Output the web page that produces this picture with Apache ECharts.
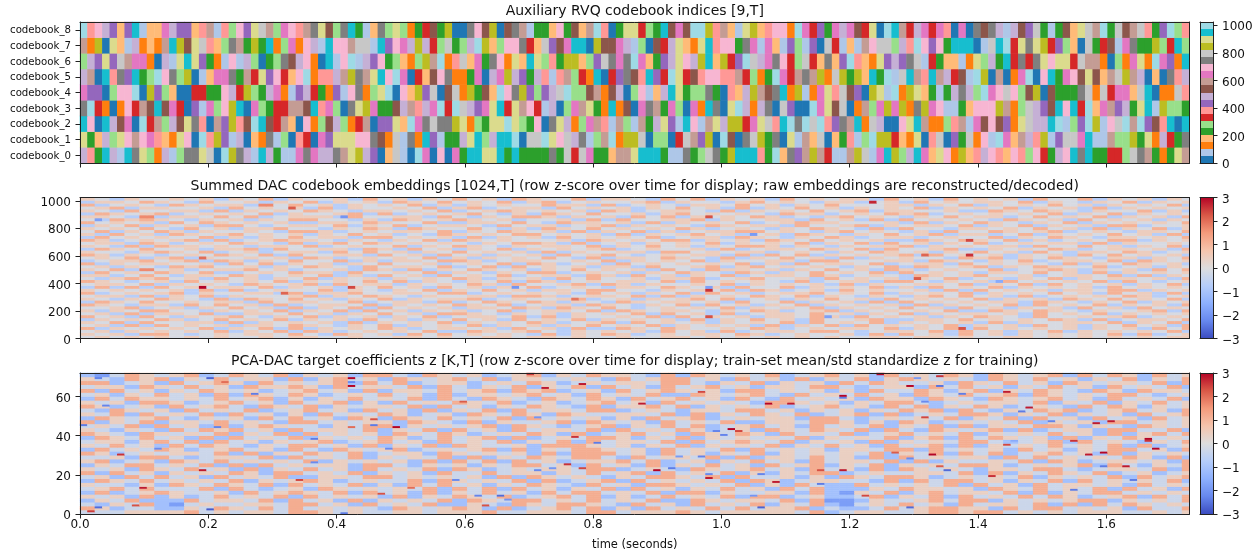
<!DOCTYPE html>
<html><head><meta charset="utf-8">
<script src="https://cdn.jsdelivr.net/npm/echarts@6/dist/echarts.min.js"></script>
<style>html,body{margin:0;background:#fff}#c{width:1260px;height:550px}</style></head>
<body><div id="c"></div>
<script>
// Top panel: transcribed per cell as tab20 colour bins (one letter per frame).
const binKey = "BbOoGgRrPpNnMmKkYyCc";
const codebook_0 = "prGCpbCKygOpbgKKykBcYKpbCpGbbMKMppKnyYpPBokbBcMBmB"+"MGCCyyCGCGGGGKGkRkMGGonnyCCCGbbKGgkKGYCCCrGcoKPnYn"+"RbbnYkbMCYgpCMoymOYorpmromrgmRGpmCKCGGRRgkKnGOGyn";
const codebook_1 = "yGopgymnmMroOymBcrYPbpBoOKbgBrRBMPyyymmKNOkbKOCPbG"+"GpyCgpCCcBkkcymkpKbgncOYYkBggBRknPYBcNBKkYGKBybnok"+"BoGrbgcYYRoOyBrkBPGkOmbcMonprYbPkkMCbbnggYGyOpRGK";
const codebook_2 = "CmBCpNMBcRngpNyKrBnPYrNcCNRnoBmOgNpgORnBPPyocMKkKK"+"YyOgGyycygGmBKypOgMnrbngbnGpyPbCmbnypYYRMykrCcKckc"+"rPKnCOkpBBmyCnOOgrnbMNmNPOykppCcbgPcYbmkcncPNrCBC";
const codebook_3 = "KcROBOmRnNCNMRBPbMgmYCBMgGRRnnNCrMgBKyYMGGNpnrpMcR"+"ckpPMyCRynmRbpBgMnyGOCONBMKnGMgBMOCKBycpOpKBkPBBcM"+"yNkBOngMYMYOKYMmbbGommmYnOgkpPNCmCRcoMnPpGyCbYggG";
const codebook_4 = "MPPBgmmcBYPgoBBRRGGmpRYgGpMObPpRGOPbmKOgycBmoYPkBN"+"kOYGNocmKYPgPpkcggNnONpBgmbopCyGggKGBropYnNKCOYbOM"+"yrkNPBYybcOYyoGbGpKpgcMmkmgNYBNGGGKkOkRMMokCBOOkr";
const codebook_5 = "pnBCrKPCGgcmKgYBboMMKGnRyPmRomcOrrpnYKnyCmcMBRoNmK"+"OOGMBpMYpPGprbrngROCBRPKNrCPRcyRNrmmrrnRgOGcMRnKnY"+"OkYGYoCGcbkCnrCnpRNbcYBnBOMcBmCGMmNyNonkYnpBoBKrp";
const codebook_6 = "gpPyPknMMOBpbyCyPGObmbpgBGgKNpmOBCbmcbpPmGgoOgYncO"+"rkoMGKmOyoCygrGYYogPkKMKcMoGPpympYCoYRPckpMKmRgkRo"+"KoPcroOyPpPKkbRGoobOygpGCRKRKymyyRknnOBgOMyOcMPOC";
const codebook_7 = "nOYByobpOoOnCYNykrogKnGYGCOgMOmpbCmmnkkbCPmMpYpRgk"+"GgpcYogmmKRokPNMCCBYNNMpbgBNRpyoOyCrmmGKMbMobPgbPB"+"kRbobnmkkgprcmPmGCCCBbkCcRyKyYRPgoBkGRNbMKGGYgRCg";
const codebook_8 = "crmpPoPCbooMpPPornbrgmPykngMmrnKyNgKCGboKgygOGRNGY"+"BBKmNYBNKnbGGomGNoncrBGyyRgGCNMNccYrnobyYormmOcMRP"+"GMpMNRyBcCnRpMRMrBMBKNKpbpNPkGbGNoykncGkNnkrGPcgr";
const codebookRows = [codebook_0,codebook_1,codebook_2,codebook_3,codebook_4,codebook_5,codebook_6,codebook_7,codebook_8];
const codebookLabels = ["codebook_0","codebook_1","codebook_2","codebook_3","codebook_4","codebook_5","codebook_6","codebook_7","codebook_8"];

// Middle panel: coarse hand-estimated tones, top row first. Cell = 2 frames.
const embeddingTones = [
"54354 45453 54635 44536 45354 64536 54463 55436 46354 53645 45536 45364 54536 44635 45354",
"35546 54364 45354 63545 36546 45463 56345 44563 54435 64543 55345 36454 55463 54354 63545",
"63454 36545 53746 45354 54635 35454 46553 63454 35546 45354 64445 53546 35454 64535 45463",
"45635 54453 64545 36354 45463 56345 53645 45354 64536 35464 53545 46354 54635 45363 54545",
"54364 45536 35454 65435 54546 34565 45453 65345 54363 54546 45635 54453 36546 54354 46353",
"36545 63454 54635 44563 63454 56435 36546 44535 64545 43655 34546 56345 45454 63546 35454",
"55437 35546 46345 55364 45536 43546 65354 53646 35454 65343 56454 35464 55346 45463 54536",
"43656 54354 53546 64435 36545 65453 44536 36445 56354 45536 45363 64545 43654 53645 45354",
"64545 36465 45453 35546 54463 35546 43655 45363 54546 34565 54445 36354 65435 46354 54546",
"35463 54536 64345 54635 46345 54364 55345 63545 43654 55364 45635 45546 35463 54536 63445",
"54546 43645 35564 43546 53654 46435 36546 45454 65345 43546 54363 64435 54546 45363 54635",
"46354 65354 45436 65345 45546 35465 45363 54635 34556 64543 56454 35364 46545 63454 35546",
"53645 36545 64545 35464 53436 54546 64545 36354 56453 45365 43546 45635 53463 54546 45363",
"36454 54463 53546 45536 64545 36354 53645 45463 45536 54354 65345 53454 46354 65435 54546",
"65345 45636 34565 54354 35463 65454 44536 54546 63545 36546 45453 36546 54635 34546 63545",
"45536 53454 65436 35646 54545 43546 65363 45354 54635 45463 54636 45354 63454 55363 54454",
"54363 65545 43554 63454 46354 65435 45546 35464 53546 65354 35455 63545 45536 44645 35463",
"36546 44535 56364 45536 53645 35463 54545 63454 45363 45546 54636 44563 35454 65345 54536",
"54435 65463 45345 53646 45354 64545 36354 45536 64545 53454 35465 45354 64536 43554 65345",
"65354 34546 54636 44553 64536 45354 53645 64345 45536 36463 54545 63645 45354 53646 45453",
"45463 56354 45453 65345 45463 53545 46436 35546 54363 54645 36354 54436 56354 65435 53546",
"34556 45636 53546 44635 35546 65345 54454 63545 46354 45536 64445 53654 35463 45546 36545",
"63545 54453 64635 45354 64453 45463 65345 36454 54546 35364 55463 45536 45454 36354 65453",
"45354 36564 45354 65436 45546 34636 45453 55364 45635 64545 43546 36545 63546 54463 45354",
"54637 45345 56453 44536 53635 46545 35464 54536 43655 45354 64536 53454 46345 65354 53646",
"36454 65463 34546 55364 45463 54354 66345 45354 65436 53546 45463 64545 35546 45363 54545",
"55346 43554 65345 46353 64536 45463 45536 53645 35463 45546 53454 36545 64453 45546 36354",
"43565 64536 45354 63545 35454 65354 53646 44535 56345 64453 64545 35463 45354 63545 54536",
"65434 53645 45463 54546 46354 35463 65345 45546 36454 54363 45536 64354 53645 45463 64345",
"45546 35454 36545 63645 53545 46536 44563 65354 45463 54545 36354 45546 35463 64545 35463",
"36363 64545 54635 45354 64536 45354 63454 35546 54536 44635 45463 53645 46354 54536 45454",
"54545 45363 63454 46354 35463 54645 35546 64435 45463 65345 36454 45363 64545 35546 63545",
"63454 56354 45536 35564 45546 63454 54536 45354 63645 34556 45463 54546 35454 64536 45363",
"45536 35463 54445 63546 54354 45536 65345 54636 35454 65463 54354 35646 45363 45454 65345",
"54354 65436 36546 45354 63545 56345 44563 45354 56463 45354 64536 45454 63545 36546 45463",
"36546 44545 53645 54463 45536 34654 65354 36545 54536 44635 45363 64545 45536 54354 63545",
"65435 53646 45363 45546 35454 65463 45536 54354 63645 35463 54545 36354 54636 45463 54536",
"44563 45354 64536 35463 64545 35546 53654 64345 45463 54546 35454 64536 45354 53645 36454",
"53546 64435 45463 54636 45354 53463 45546 36545 54354 65345 63545 45463 36546 54354 45636",
"45363 55463 35546 45354 64536 65435 45354 54636 45363 45546 45354 63545 54536 45463 54545",
"64536 43545 64354 63545 35463 45546 36354 45463 64545 35546 53645 45354 65436 44545 63454",
"35454 65346 45463 54536 45354 64536 45463 54545 36354 64536 44563 35546 45454 65363 45546",
"54636 44553 63545 45363 54546 35454 65345 63645 45354 54636 45463 54545 36354 45546 35463",
"45363 64545 35546 54354 63545 46354 53546 45463 54545 36354 63645 45463 54536 45354 64536",
"63545 45463 54636 35454 65345 54536 45363 36546 54454 65345 45546 35463 64545 45354 53646",
"45354 54546 35463 65345 45463 36545 64354 54536 45363 45546 64345 54636 45354 63545 45463",
"54536 64345 45546 43654 53646 45454 36354 65345 45546 53454 45363 64536 45354 54546 36345",
"45454 54545 44545 54454 45545 44554 55454 45445 54545 45454 54455 45545 44554 54545 45455"
];
const embeddingSpots = [[16,25,3],[36,25,2.4],[16,41,2],[28,66,2.2],[27,22,2.1],[66,19,1.9],[106,69,2.7],[119,49,2.4],[119,42,2.6],[118,4,2.3],[84,62,2.3],[84,24,2.6],[84,11,2.3],[112,30,2.2],[113,42,2.1],[35,62,-2],[58,25,-2],[123,29,-1.6],[84,25,-1.8],[2,60,-1.8],[90,53,-1.9],[100,11,-1.8]];

// Bottom panel: coarse hand-estimated tones, top row first. Cell = 2 frames x 2 coefficients.
const pcaTones = [
"32465 45634 65463 54536 64365 45345 63546 55436 36545 46345 64536 45465 36545 63646 53645",
"54365 63546 45536 35645 36545 64635 54454 36456 64536 45363 54635 65454 36546 45354 63546",
"66345 36456 53645 45636 46345 53454 65345 45546 64354 63545 36465 44536 54645 36545 54636",
"45536 54645 36556 53645 54636 43546 35463 64536 45645 35546 64345 53646 45354 64536 45463",
"63645 35465 45345 64536 35546 45636 56345 36456 54536 64545 35364 46535 63546 54365 36554",
"45354 64536 36546 53454 64536 35545 64536 45463 36545 64364 54645 36546 45636 54546 64345",
"36465 54546 45635 35464 54636 43654 36546 53645 64536 43645 45365 53654 36545 64536 45463",
"54536 65345 64536 45635 36454 65463 45345 64536 45454 36654 53546 64345 45546 35463 54645",
"65345 36456 43654 63545 54636 45354 65436 35564 63545 46345 64536 46354 65345 43646 53545",
"43654 53645 46345 64536 45363 54636 45546 63454 35546 64535 45354 65636 43546 56345 64536",
"54636 45463 64535 36454 65345 36546 53654 45546 36354 65463 45636 34546 65354 63545 36456",
"36545 64354 53646 45365 36546 45463 64545 35364 56345 45536 64345 45463 54636 45364 53645",
"63546 35546 45436 64545 53654 36354 45636 54536 45463 35546 65353 65345 45463 54536 64545",
"45463 64536 35654 43546 63545 45636 54345 63546 46345 64536 45463 54636 35546 65354 36545",
"54354 36465 64536 45546 35463 64536 45546 36454 65345 36546 54636 43654 56363 45536 64463",
"65436 54546 35463 64545 36546 53454 65363 45645 36546 53645 46345 64546 35454 64536 35646",
"36546 45363 64546 35454 65346 45636 34546 65354 63545 45463 54546 35636 46545 36354 65454",
"45535 64636 45354 56345 64536 45463 54636 45546 36456 54635 45363 54546 64345 63645 43546",
"54645 36465 43546 64536 35463 65445 36665 45354 63545 46354 64536 45636 35454 64546 36345",
"36454 65345 64536 43654 56345 45636 35466 54536 45463 64545 35546 63645 45364 53546 64536",
"65345 45546 36354 65463 45536 54545 36366 64536 45354 63545 45463 54636 46345 64536 35454",
"44536 64345 54636 45463 54546 36354 65466 43645 54636 35546 45363 64545 53646 45454 65363",
"56345 36546 45454 63545 45363 64636 45345 56463 45354 64536 45546 36354 45463 65345 54536",
"35466 45463 63645 45536 64354 53546 64536 45363 54645 36456 35463 54546 65345 45636 43546",
"54536 54645 36354 64536 45463 65345 45546 63454 36545 64536 45363 65454 35546 64345 54636",
"63645 35454 65366 45463 54536 44645 53546 45636 45463 53546 63454 45546 36354 65463 45345",
"45364 64536 45463 35546 64545 45363 65454 35466 54636 44535 36546 65345 45463 54546 36456",
"36546 45454 63545 65345 44636 54546 36345 63645 45463 65345 54436 36466 45354 63645 45463",
"54435 36546 54636 45463 53646 45354 65436 45366 54546 35364 33645 45463 64536 45545 36454",
"45646 44463 64345 36545 45463 64636 45354 63645 35464 53646 33354 65545 36546 45463 64536",
"36345 65445 36456 54636 45363 54645 36466 45463 66354 45536 32546 35645 54636 35466 45454",
"54536 35346 45463 64545 36354 65463 45646 35346 45463 66345 33463 54636 45464 65345 63646",
"35463 33645 54636 45363 54546 36546 64546 45463 36545 54636 22354 45646 63545 45663 54546",
"43546 32454 45546 64536 45463 35436 54665 43645 36454 63546 32454 64536 45546 36364 65454",
"65344 33546 54646 45454 36545 65363 45646 35364 54646 45563 43346 45665 53646 64545 36446",
"44455 55645 45546 65454 45545 55644 55546 64555 65455 55546 34554 45665 66454 54555 44545"
];
const pcaSpots = [[36,69,3],[36,65,3],[60,71,2.5],[67,66,2.8],[62,64,2.8],[51,57,2.2],[42,44,3],[36,44,2],[39,48,2.3],[66,39,2.6],[5,30,2.6],[16,22,2.8],[29,17,2.4],[8,13,2.8],[65,25,2.6],[67,23,2.4],[40,10,2.3],[7,4,2.3],[1,1,2.5],[54,4,2.3],[44,13,2],[19,67,2],
[17,69,-2.7],[2,69,-2.3],[2,3,-2.6],[17,2,-2.8],[36,67,-2.2],[0,45,-2.4],[3,55,-2.3],[23,61,-2.4],[18,44,-2.3],[39,45,-2.4],[31,38,-2.4],[31,26,-2.2],[10,33,-2.2],[69,36,-2.4],[61,49,-2],[56,9,-2.6],[53,9,-2.3],[61,22,-2.2],[50,17,-2.2],[41,33,-2.2],[57,7,-2],[35,0,-2.4],[63,23,-2],
[77,22,3],[75,56,2.8],[83,62,2.4],[92,56,3],[95,56,2.8],[102,60,3],[87,43,3],[88,42,2.4],[99,22,2.3],[102,22,2.8],[93,16,2.8],[84,18,2.8],[111,65,3],[124,62,2.8],[127,54,2.8],[114,30,3],[136,46,2.8],[138,47,2.8],[143,38,3],[143,37,2.6],[144,33,3],[137,31,3],[135,30,2.8],[140,24,2.8],[133,37,2.6],[122,19,2.6],[113,49,2.4],[115,24,2.2],[107,71,3],[115,70,2.6],[105,9,2.4],[109,31,2.2],[124,35,2.4],
[102,59,-2.4],[113,57,-2.2],[115,65,-2.5],[118,61,-2.4],[126,52,-2.4],[130,47,-2.3],[86,40,-2.3],[80,29,-1.9],[83,29,-2.3],[85,42,-2.3],[79,23,-2.4],[84,20,-2.2],[91,20,-2.3],[99,15,-2.4],[116,22,-2.6],[137,24,-2.4],[141,17,-2.4],[133,12,-2.4],[91,3,-2.7],[111,3,-2.6],[111,28,-2.2],[90,9,-2],[100,6,-1.9],[125,37,-1.6],[112,69,-1.9]];

const timeTicks = [0,0.2,0.4,0.6,0.8,1.0,1.2,1.4,1.6];
const embeddingTicks = [0,200,400,600,800,1000];
const pcaTicks = [0,20,40,60];
const codeTicks = [0,200,400,600,800,1000];
const zTicks = [-3,-2,-1,0,1,2,3];
const duration = 1.7297, FRAMES = 149;
const titles = ["Auxiliary RVQ codebook indices [9,T]",
 "Summed DAC codebook embeddings [1024,T] (row z-score over time for display; raw embeddings are reconstructed/decoded)",
 "PCA-DAC target coefficients z [K,T] (row z-score over time for display; train-set mean/std standardize z for training)"];

const tab20=["#1f77b4","#aec7e8","#ff7f0e","#ffbb78","#2ca02c","#98df8a","#d62728","#ff9896","#9467bd","#c5b0d5","#8c564b","#c49c94","#e377c2","#f7b6d2","#7f7f7f","#c7c7c7","#bcbd22","#dbdb8d","#17becf","#9edae5"];
const coolwarm=["#3b4cc0","#6788ee","#8db0fe","#b5cdfa","#dddddd","#f5c4ac","#f49a7b","#d95847","#b40426"];
const binW=1024/20;

const frames=Array.from({length:FRAMES},(_,i)=>i);
const codeData=[];
codebookRows.forEach((s,r)=>{for(let t=0;t<FRAMES;t++){codeData.push([t,r,(binKey.indexOf(s[t])+0.5)*binW]);}});

function tones(rows,nRows,factor,spots,spotScale,centre,gain){
  const clean=rows.map(s=>s.replace(/ /g,'')); const out=[]; const grid={};
  for(let k=0;k<nRows;k++){const src=clean[clean.length-1-Math.floor(k/factor)];
    for(let t=0;t<FRAMES;t++){grid[t+'_'+k]=(Number(src[Math.floor(t/2)]||4)-centre)*gain;}}
  spots.forEach(([t,k,z])=>{const kk=Math.min(nRows-1,Math.round(k*spotScale));grid[t+'_'+kk]=z;});
  for(let k=0;k<nRows;k++)for(let t=0;t<FRAMES;t++)out.push([t,k,grid[t+'_'+k]]);
  return out;
}
const embData=tones(embeddingTones,48,1,embeddingSpots,48/72,4.2,0.6);
const pcaData=tones(pcaTones,72,2,pcaSpots,1,4.45,0.75);

const tops=[22,197.5,373], H=141, L=80, W=1109.5, CL=1200, CW=13;
const ink='#222', line={show:true,onZero:false,lineStyle:{color:ink,width:1}};
const font="DejaVu Sans";
const tick={show:true,length:4.5,lineStyle:{color:ink,width:1}};
const grids=[],xA=[],yA=[],series=[];
const bar=(stops)=>({type:'linear',x:0,y:1,x2:0,y2:0,colorStops:stops});
const hardStops=[];tab20.forEach((c,i)=>{hardStops.push({offset:i/20,color:c},{offset:(i+1)/20,color:c});});
const softStops=coolwarm.map((c,i)=>({offset:i/8,color:c}));
const yLabel={color:'#111',fontFamily:font,fontSize:12,margin:9,verticalAlign:'top',lineHeight:4};

tops.forEach((top,i)=>{
  grids.push({left:L,top,width:W,height:H,containLabel:false,outerBoundsMode:'none'});
});
tops.forEach((top,i)=>{
  grids.push({show:true,left:CL,top,width:CW,height:H,borderWidth:0,outerBoundsMode:'none',backgroundColor:bar(i===0?hardStops:softStops)});
});
const rowCats=n=>Array.from({length:n},(_,i)=>String(i));
const panels=[{n:9,data:codeData},{n:48,data:embData},{n:72,data:pcaData}];
panels.forEach((p,i)=>{
  const xCat=xA.length;
  xA.push({gridIndex:i,type:'category',data:frames,position:'top',z:5,axisLine:line,axisTick:{show:false},axisLabel:{show:false},splitLine:{show:false}});
  xA.push({gridIndex:i,type:'value',min:0,max:duration,position:'bottom',z:5,axisLine:line,splitLine:{show:false},
    axisTick:Object.assign({customValues:timeTicks},tick),
    axisLabel:{show:i===2,customValues:timeTicks,formatter:v=>v.toFixed(1),color:'#111',fontFamily:font,fontSize:12,margin:5},
    name:i===2?'time (seconds)':'',nameLocation:'middle',nameGap:25,nameTextStyle:{color:'#111',fontFamily:font,fontSize:11.5}});
  const yHeat=yA.length;
  if(i===0){
    yA.push({gridIndex:i,type:'category',data:codebookLabels,position:'left',z:5,axisLine:line,splitLine:{show:false},
      axisTick:Object.assign({alignWithLabel:true},tick),axisLabel:{interval:0,color:'#111',fontFamily:font,fontSize:10.2,margin:9,verticalAlign:'top',lineHeight:2}});
    yA.push({gridIndex:i,type:'category',data:codebookLabels,position:'right',z:5,axisLine:line,axisTick:{show:false},axisLabel:{show:false},splitLine:{show:false}});
  } else {
    const vals=i===1?embeddingTicks:pcaTicks;
    yA.push({gridIndex:i,type:'category',data:rowCats(p.n),position:'right',z:5,axisLine:line,axisTick:{show:false},axisLabel:{show:false},splitLine:{show:false}});
    yA.push({gridIndex:i,type:'value',min:0,max:i===1?1024:72,position:'left',z:5,axisLine:line,splitLine:{show:false},
      axisTick:Object.assign({customValues:vals},tick),
      axisLabel:Object.assign({customValues:vals,formatter:v=>String(v)},yLabel)});
  }
  series.push({type:'heatmap',xAxisIndex:xCat,yAxisIndex:yHeat,data:p.data,progressive:0,animation:false,silent:true,emphasis:{disabled:true}});
});
// colour bars
[0,1,2].forEach(i=>{
  const g=i+3, vals=i===0?codeTicks:zTicks;
  xA.push({gridIndex:g,type:'value',min:0,max:1,position:'bottom',axisLine:line,axisTick:{show:false},axisLabel:{show:false},splitLine:{show:false}});
  xA.push({gridIndex:g,type:'value',min:0,max:1,position:'top',axisLine:line,axisTick:{show:false},axisLabel:{show:false},splitLine:{show:false}});
  yA.push({gridIndex:g,type:'value',min:i===0?0:-3,max:i===0?1024:3,position:'right',axisLine:line,splitLine:{show:false},
    axisTick:Object.assign({customValues:vals},tick),
    axisLabel:Object.assign({customValues:vals,formatter:v=>String(v).replace('-','\u2212')},yLabel)});
  yA.push({gridIndex:g,type:'value',min:0,max:1,position:'left',axisLine:line,axisTick:{show:false},axisLabel:{show:false},splitLine:{show:false}});
});

const chart=echarts.init(document.getElementById('c'),null,{renderer:'canvas'});
chart.setOption({
  animation:false,backgroundColor:'#fff',
  title:titles.map((t,i)=>({text:t,left:L+W/2-5,top:[-1,174.5,349.5][i],textAlign:'center',textStyle:{fontFamily:font,fontSize:14,fontWeight:'normal',color:'#111'}})),
  grid:grids,xAxis:xA,yAxis:yA,series,
  visualMap:[
    {type:'piecewise',show:false,seriesIndex:0,dimension:2,pieces:tab20.map((c,i)=>({min:i*binW,max:(i+1)*binW,color:c}))},
    {type:'continuous',show:false,seriesIndex:1,dimension:2,min:-3,max:3,inRange:{color:coolwarm}},
    {type:'continuous',show:false,seriesIndex:2,dimension:2,min:-3,max:3,inRange:{color:coolwarm}}
  ]
});
</script></body></html>
